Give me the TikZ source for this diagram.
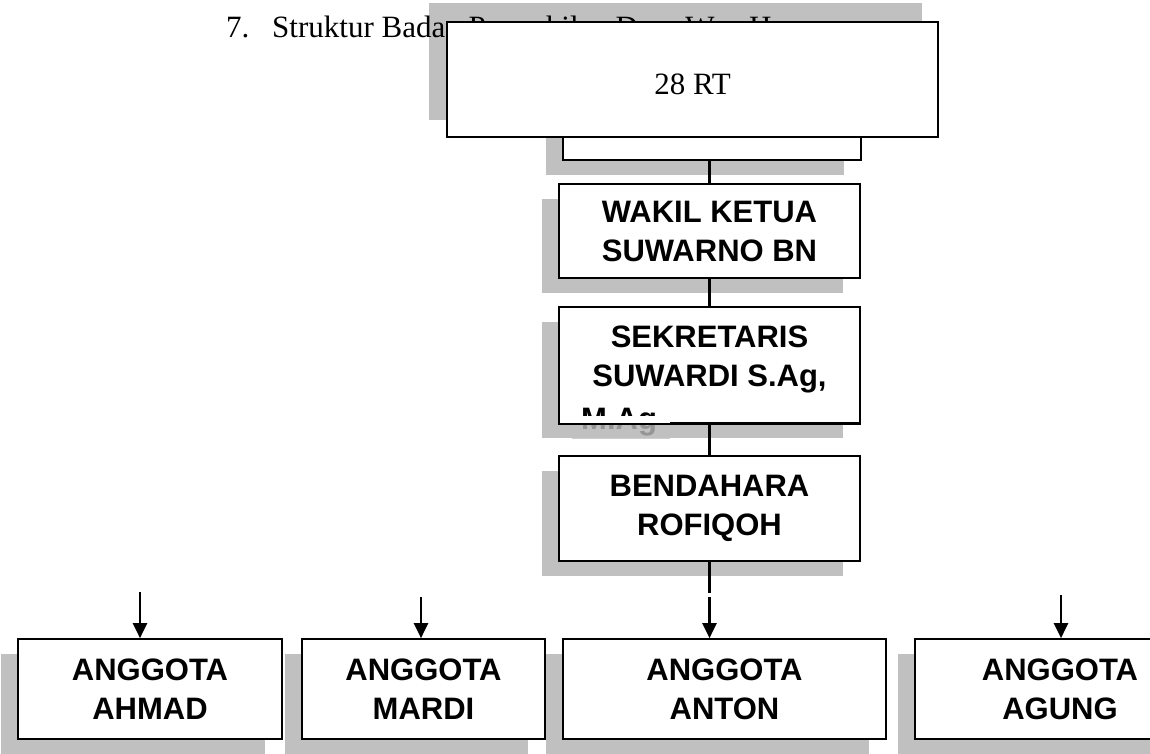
\documentclass[tikz,border=0pt]{standalone}
\usepackage{fontspec}
\setmainfont{Liberation Serif}
\setsansfont{Liberation Sans}
\usetikzlibrary{shadows,arrows.meta,positioning}
\definecolor{shadowgray}{RGB}{192,192,192}
\tikzstyle{plainbox}=[rectangle, draw=black, fill=white, line width=1.7pt, inner sep=0pt, align=center, font=\sffamily\bfseries\fontsize{31}{39}\selectfont]
\tikzstyle{box}=[plainbox, general shadow={fill=shadowgray, draw=none, shadow xshift=-17pt, shadow yshift=-15pt}]
\tikzstyle{link}=[-, draw=black, line width=3pt]
\tikzstyle{arrow}=[-{Triangle[length=15pt,width=14pt]}, draw=black, line width=2.3pt]
\pgfdeclarelayer{shadowlayer}
\pgfdeclarelayer{titlelayer}
\pgfsetlayers{shadowlayer,titlelayer,main}

\begin{document}
\begin{tikzpicture}[x=1pt, y=-1pt]
            \useasboundingbox (0,0) rectangle (1150,753);
            \node [style=plainbox, minimum width=491pt, minimum height=115pt, text height=30pt, font=\rmfamily\fontsize{31}{39}\selectfont] (rt) at (692.5, 79.5) {28 RT};
            \begin{pgfonlayer}{shadowlayer}
                \fill [shadowgray] ([shift={(-17,-18)}]rt.north west) rectangle ([shift={(-17,-18)}]rt.south east);
            \end{pgfonlayer}
            \begin{pgfonlayer}{titlelayer}
                \node [anchor=base west, inner sep=0pt, font=\fontsize{31}{37}\selectfont] (num) at (226, 37) {7.};
                \node [anchor=base west, inner sep=0pt, font=\fontsize{31}{37}\selectfont] (title) at (272, 37) {Struktur Badan Perwakilan Desa Way Harong};
            \end{pgfonlayer}
            % hidden box under the top one
            \begin{pgfonlayer}{titlelayer}
                \node [style=box, minimum width=298pt, minimum height=65pt] (ketua) at (712, 127.5) {};
            \end{pgfonlayer}
            \node [style=box, minimum width=301pt, minimum height=94pt] (wakil) at (709.5, 231) {WAKIL KETUA\\SUWARNO BN};
            \node [style=box, minimum width=301pt, minimum height=116pt, text depth=17pt] (sekretaris) at (709.5, 365) {SEKRETARIS\\SUWARDI S.Ag,};
            \node [style=box, minimum width=301pt, minimum height=105pt] (bendahara) at (709.5, 508.5) {BENDAHARA\\ROFIQOH};
            \node [style=box, minimum width=264pt, minimum height=100pt] (ahmad) at (150, 689) {ANGGOTA\\AHMAD};
            \node [style=box, minimum width=243pt, minimum height=100pt] (mardi) at (423.5, 689) {ANGGOTA\\MARDI};
            \node [style=box, minimum width=323pt, minimum height=100pt] (anton) at (724.5, 689) {ANGGOTA\\ANTON};
            \node [style=box, minimum width=290pt, minimum height=100pt] (agung) at (1060, 689) {ANGGOTA\\AGUNG};
            % last line of the secretary box runs out of it
            \node [anchor=base west, inner sep=0pt, font=\sffamily\bfseries\fontsize{31}{39}\selectfont] (mag) at (581, 429) {M.Ag};
            \fill [white] ([shift={(2,-8)}]sekretaris.south west) rectangle ([shift={(112,-1)}]sekretaris.south west);
            \fill [shadowgray, opacity=0.78] ([shift={(14,1)}]sekretaris.south west) rectangle ([shift={(112,15)}]sekretaris.south west);
            \draw [line width=1.7pt] (sekretaris.south west) -- (sekretaris.south east);
            \coordinate (cut1) at (709.5, 593);
            \coordinate (cut2) at (709.5, 597);
            \coordinate (inAhmad) at (140, 592);
            \coordinate (inMardi) at (421, 597);
            \coordinate (inAgung) at (1061, 595);
            \draw [style=link] (ketua.south -| wakil.north) -- (wakil.north);
            \draw [style=link] (wakil.south) -- (sekretaris.north);
            \draw [style=link] (sekretaris.south) -- (bendahara.north);
            \draw [style=link] (bendahara.south) -- (cut1);
            \draw [style=arrow] (cut2) -- (cut2 |- anton.north);
            \draw [style=arrow] (inAhmad) -- (inAhmad |- ahmad.north);
            \draw [style=arrow] (inMardi) -- (inMardi |- mardi.north);
            \draw [style=arrow] (inAgung) -- (inAgung |- agung.north);
\end{tikzpicture}
\end{document}
